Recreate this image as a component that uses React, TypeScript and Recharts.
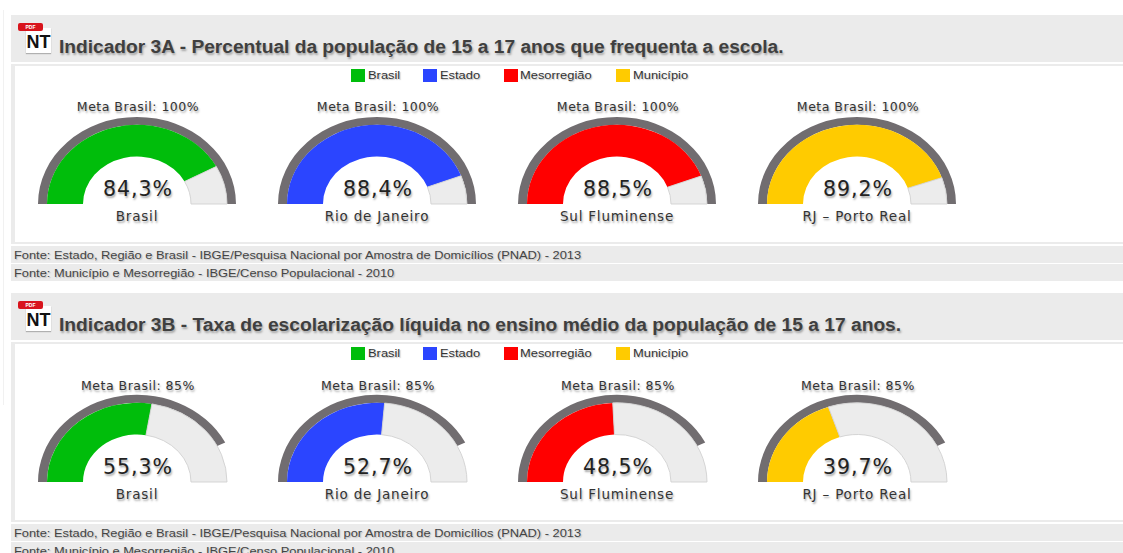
import { PieChart, Pie, Cell } from 'recharts'

const legendNames = ['Brasil', 'Estado', 'Mesorregião', 'Município']
const legendColors = ['#00bd0b', '#2b45ff', '#ff0000', '#ffcb00']
const placeNames = ['Brasil', 'Rio de Janeiro', 'Sul Fluminense', 'RJ – Porto Real']

const title3A = 'Indicador 3A - Percentual da população de 15 a 17 anos que frequenta a escola.'
const values3A = [84.3, 88.4, 88.5, 89.2]
const meta3A = 100

const title3B = 'Indicador 3B - Taxa de escolarização líquida no ensino médio da população de 15 a 17 anos.'
const values3B = [55.3, 52.7, 48.5, 39.7]
const meta3B = 85

const sourceLines = [
  'Fonte: Estado, Região e Brasil - IBGE/Pesquisa Nacional por Amostra de Domicílios (PNAD) - 2013',
  'Fonte: Município e Mesorregião - IBGE/Censo Populacional - 2010',
]

const gaugeFont = '"DejaVu Sans", sans-serif'
const pageFont = '"Liberation Sans", Arial, sans-serif'
const softShadow = '1px 2px 2px rgba(60,60,60,0.45)'

const pct = (v: number) => v.toFixed(1).replace('.', ',') + '%'

function Gauge({ value, meta, color, name, left, top }: any) {
  const ring = [{ v: meta }, { v: 100 - meta }]
  const slices = [{ v: value }, { v: 100 - value }]
  return (
    <div style={{ position: 'absolute', left, top, width: 240, height: 140 }}>
      {/* the source image is stretched sideways, so the half circles are squashed a bit */}
      <div style={{ position: 'absolute', left: 0, top: 0, transform: 'scaleY(0.88)', transformOrigin: '120px 104px' }}>
        <PieChart width={240} height={112} margin={{ top: 0, right: 0, bottom: 0, left: 0 }}>
          <Pie data={ring} dataKey="v" cx={120} cy={104} startAngle={180} endAngle={0} innerRadius={90} outerRadius={99} stroke="none" isAnimationActive={false}>
            <Cell fill="#716d70" />
            <Cell fill="none" />
          </Pie>
          <Pie data={slices} dataKey="v" cx={120} cy={104} startAngle={180} endAngle={0} innerRadius={54} outerRadius={90} isAnimationActive={false}>
            <Cell fill={color} stroke="none" />
            <Cell fill="#ececec" stroke="#d2d2d2" />
          </Pie>
        </PieChart>
      </div>
      <div style={{ position: 'absolute', left: 1, width: 240, top: 75, textAlign: 'center', fontFamily: gaugeFont, fontSize: 20.5, letterSpacing: 1, lineHeight: '28px', color: '#222', textShadow: softShadow }}>{pct(value)}</div>
      <div style={{ position: 'absolute', left: 0, width: 240, top: 107, textAlign: 'center', fontFamily: gaugeFont, fontSize: 13.5, letterSpacing: 0.8, lineHeight: '18px', color: '#333', textShadow: softShadow }}>{name}</div>
    </div>
  )
}

function Legend({ top }: { top: number }) {
  const lefts = [351, 423, 504, 616]
  return (
    <>
      {legendNames.map((n, i) => (
        <div key={n} style={{ position: 'absolute', left: lefts[i], top, height: 14, display: 'flex', alignItems: 'center', fontFamily: pageFont, fontSize: 11.5, color: '#333', textShadow: '1px 1px 1px rgba(90,90,90,0.35)' }}>
          <span style={{ display: 'inline-block', width: 14, height: 13, background: legendColors[i], marginRight: i === 2 ? 2 : 3 }} />
          <span style={{ display: 'inline-block', transform: 'scaleX(1.12)', transformOrigin: 'left center' }}>{n}</span>
        </div>
      ))}
    </>
  )
}

function NtIcon({ left, top }: { left: number; top: number }) {
  return (
    <div style={{ position: 'absolute', left, top, width: 34, height: 32 }}>
      <div style={{ position: 'absolute', left: 8, top: 5, width: 25, height: 25, background: '#fff', boxShadow: '0 1px 1px rgba(0,0,0,0.25)' }} />
      <div style={{ position: 'absolute', left: 0, top: 0, width: 25, height: 8, background: '#d8141c', borderRadius: 2, color: '#fff', fontFamily: pageFont, fontSize: 5, lineHeight: '8px', textAlign: 'center', fontWeight: 700 }}>PDF</div>
      <div style={{ position: 'absolute', left: 8, top: 10, width: 25, textAlign: 'center', fontFamily: pageFont, fontSize: 18, lineHeight: '18px', fontWeight: 700, color: '#111' }}>NT</div>
    </div>
  )
}

function Section({ top, title, values, meta, metaTop, stretch }: any) {
  return (
    <>
      <div style={{ position: 'absolute', left: 11, top, width: 1112, height: 47, background: '#ebebeb' }} />
      <NtIcon left={18} top={top + 8} />
      <div style={{ position: 'absolute', left: 59, top: top + 22, fontFamily: pageFont, fontSize: 17.5, lineHeight: '20px', fontWeight: 700, color: '#3f3f3f', whiteSpace: 'nowrap', textShadow: '1px 2px 2px rgba(60,60,60,0.4)', transform: `scaleX(${stretch})`, transformOrigin: 'left center' }}>{title}</div>
      <div style={{ position: 'absolute', left: 11, top: top + 49, width: 1112, height: 180, background: '#ebebeb' }} />
      <div style={{ position: 'absolute', left: 15, top: top + 51, width: 1108, height: 176, background: '#fff' }} />
      <Legend top={top + 53} />
      {values.map((v: number, i: number) => (
        <div key={i}>
          <Gauge value={v} meta={meta} color={legendColors[i]} name={placeNames[i]} left={17 + 240 * i} top={top + 85} />
          <div style={{ position: 'absolute', left: 18 + 240 * i, width: 240, top: top + metaTop, textAlign: 'center', fontFamily: gaugeFont, fontSize: 12.5, letterSpacing: 0.5, lineHeight: '18px', color: '#333', textShadow: softShadow }}>Meta Brasil: {meta}%</div>
        </div>
      ))}
      {sourceLines.map((s, i) => (
        <div key={s} style={{ position: 'absolute', left: 11, top: top + 231 + 18 * i, width: 1112, height: 17, background: '#ebebeb' }}>
          <div style={{ position: 'absolute', left: 3, top: 0, lineHeight: '17px', fontFamily: pageFont, fontSize: 11.6, color: '#444', whiteSpace: 'nowrap', textShadow: '1px 1px 1px rgba(90,90,90,0.3)', transform: 'scaleX(1.107)', transformOrigin: 'left center' }}>{s}</div>
        </div>
      ))}
    </>
  )
}

export default function App() {
  return (
    <div style={{ position: 'absolute', left: 0, top: 0, width: 1123, height: 553, overflow: 'hidden', background: '#fff' }}>
      <div style={{ position: 'absolute', left: 3, top: 10, width: 1, height: 395, background: '#f1f1f1' }} />
      <Section top={15} title={title3A} values={values3A} meta={meta3A} metaTop={83} stretch={1.095} />
      <Section top={293} title={title3B} values={values3B} meta={meta3B} metaTop={84} stretch={1.098} />
    </div>
  )
}
